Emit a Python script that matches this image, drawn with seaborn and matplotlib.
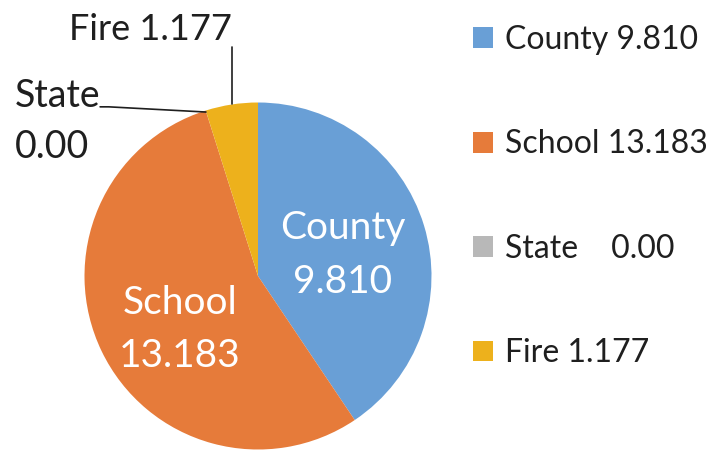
import matplotlib
matplotlib.use("Agg")
import matplotlib.pyplot as plt
import seaborn as sns
from matplotlib.patches import Patch

categories = ["County", "School", "State", "Fire"]
values = [9.810, 13.183, 0.00, 1.177]
value_text = ["9.810", "13.183", "0.00", "1.177"]
legend_labels = ["County 9.810", "School 13.183", "State    0.00", "Fire 1.177"]
colors = ["#699FD6", "#E67B3A", "#B8B8B8", "#EDB11C"]

sns.set_theme(style="white")
plt.rcParams["font.family"] = ["Lato", "DejaVu Sans"]
TXT = "#1f1f1f"

W, H = 725, 451
fig = plt.figure(figsize=(W / 100, H / 100), dpi=100)
ax = fig.add_axes([0, 0, 1, 1])
R = 173.5
cx, cy = 258, 276

wedges, _ = ax.pie(values, colors=colors, startangle=90, counterclock=False,
                   radius=1.0, center=(0, 0), frame=True,
                   wedgeprops=dict(linewidth=0))
ax.set_xlim(-cx / R, (W - cx) / R)
ax.set_ylim(-(H - cy) / R, cy / R)
ax.set_axis_off()

# inside labels
ax.text(0.49, 0.12, f"{categories[0]}\n{value_text[0]}", ha="center", va="center",
        color="white", fontsize=28, linespacing=1.6)
ax.text(-0.45, -0.31, f"{categories[1]}\n{value_text[1]}", ha="center", va="center",
        color="white", fontsize=28, linespacing=1.6)

# outside labels with leader lines
ax.text(-0.62, 1.42, f"{categories[3]} {value_text[3]}", ha="center", va="center",
        color=TXT, fontsize=26)
ax.plot([-0.15, -0.15], [0.989, 1.32], color=TXT, lw=1.2)

ax.text(-1.40, 0.89, f"{categories[2]}\n{value_text[2]}", ha="left", va="center",
        color=TXT, fontsize=27, linespacing=1.5)
ax.plot([-0.91, -0.86, -0.30], [0.975, 0.975, 0.945], color=TXT, lw=1.2)

handles = [Patch(facecolor=c, edgecolor="none") for c in colors]
leg = fig.legend(handles, legend_labels, loc="upper left",
                 bbox_to_anchor=(473 / W, 1 - 25 / H), frameon=False,
                 fontsize=23, handlelength=0.62, handleheight=0.62,
                 handletextpad=0.38, labelspacing=2.33, borderpad=0,
                 borderaxespad=0)
for t in leg.get_texts():
    t.set_color(TXT)

fig.savefig("out.png", dpi=100)
